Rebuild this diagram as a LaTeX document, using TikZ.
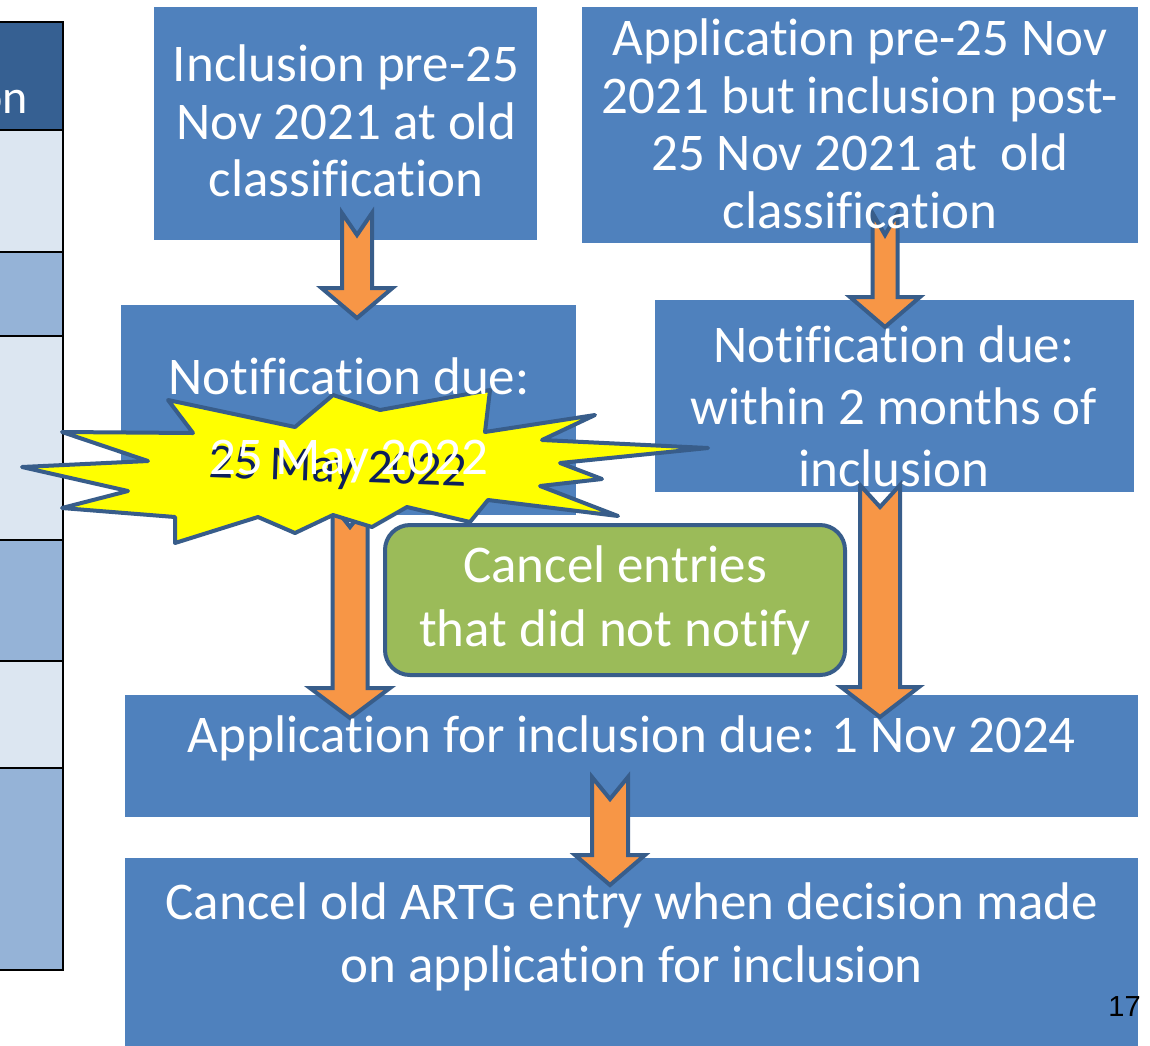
\documentclass[tikz,border=0pt]{standalone}
\usepackage{fontspec}
\setmainfont{Carlito}[Ligatures={NoCommon,NoContextual}]
\newfontfamily\pagenumfont{Liberation Sans}
\usetikzlibrary{calc}
\definecolor{boxblue}{HTML}{4F81BD}
\definecolor{edgeblue}{HTML}{385D8A}
\definecolor{arroworange}{HTML}{F79646}
\definecolor{staryellow}{HTML}{FFFF00}
\definecolor{cancelgreen}{HTML}{9BBB59}
\definecolor{hdrblue}{HTML}{366092}
\definecolor{rowlight}{HTML}{DCE6F1}
\definecolor{rowmid}{HTML}{95B3D7}
\definecolor{datenavy}{HTML}{0D1F5C}
\tikzset{
  stepbox/.style={fill=boxblue,inner sep=0pt,outer sep=0pt},
  boxtext/.style={text=white,align=center,inner sep=0pt,font={\fontsize{53}{57.5}\selectfont}},
  tablecell/.style={draw=black,line width=2pt},
  blockarr/.style={fill=arroworange,draw=edgeblue,line width=4pt},
  burst/.style={fill=staryellow,draw=edgeblue,line width=4pt,line join=round},
  cancelbox/.style={fill=cancelgreen,draw=edgeblue,line width=4pt,rounded corners=25pt,
    text=white,align=center,font={\fontsize{53}{64}\selectfont}}
}
% block arrow with notched tail: top, tip, half shaft, half head
\newcommand{\blockarrow}[4]{%
  \draw[blockarr] let \p1=(#1), \p2=(#2) in
    (\x1-#3pt,\y1) -- (\x1,\y1-22pt) -- (\x1+#3pt,\y1) -- (\x1+#3pt,\y2+30pt)
    -- (\x1+#4pt,\y2+30pt) -- (\x1,\y2) -- (\x1-#4pt,\y2+30pt) -- (\x1-#3pt,\y2+30pt) -- cycle;}

\begin{document}
\begin{tikzpicture}[x=1pt,y=-1pt]
  \fill[white] (0,0) rectangle (1150,1045);
  \useasboundingbox (0,0) rectangle (1150,1045);

  % table strip on the left
  \foreach \ytop/\ybot/\col in {22/130/hdrblue,130/252/rowlight,252/336/rowmid,
      336/540/rowlight,540/661/rowmid,661/768/rowlight,768/970/rowmid} {
    \draw[tablecell,fill=\col] (-5,\ytop) rectangle (63,\ybot);
  }
  \node[anchor=base east,text=white,inner sep=0pt,font={\fontsize{48}{54}\selectfont}] (hdrtext) at (28,113) {on};

  % boxes
  \node[stepbox,minimum width=383pt,minimum height=233pt] (boxA) at (345.5,123.5) {};
  \node[stepbox,minimum width=556pt,minimum height=236pt] (boxB) at (860,125) {};
  \node[stepbox,minimum width=455pt,minimum height=210pt] (boxC) at (348.5,410) {};
  \node[stepbox,minimum width=479pt,minimum height=192pt] (boxD) at (894.5,396) {};
  \node[stepbox,minimum width=1013pt,minimum height=122pt] (boxE) at (631.5,756) {};
  \node[stepbox,minimum width=1013pt,minimum height=192pt] (boxF) at (631.5,954) {};

  % arrows
  \coordinate (a1top) at ($(boxA.south)+(11.5,-27)$);
  \coordinate (a1tip) at ($(boxC.north)+(8.5,13)$);
  \coordinate (a2top) at ($(boxB.south)+(25,-30)$);
  \coordinate (a2tip) at ($(boxD.north)+(-9.5,27)$);
  \coordinate (a3top) at ($(boxC.south)+(1.5,-10)$);
  \coordinate (a3tip) at ($(boxE.north)+(-281.5,23)$);
  \coordinate (a4top) at ($(boxD.south)+(-14.5,-7)$);
  \coordinate (a4tip) at ($(boxE.north)+(248.5,22)$);
  \coordinate (a5top) at ($(boxE.south)+(-21.5,-40)$);
  \coordinate (a5tip) at ($(boxF.north)+(-21.5,27)$);
  \blockarrow{a1top}{a1tip}{15}{35.5}
  \blockarrow{a2top}{a2tip}{12.5}{35}
  \blockarrow{a3top}{a3tip}{17.5}{40}
  \blockarrow{a4top}{a4tip}{20}{39}
  \blockarrow{a5top}{a5tip}{18}{35}

  % explosion
  \draw[burst] (168,400) -- (295,427) -- (333,395) -- (380,410) -- (490,390) -- (485,432)
    -- (595,415) -- (542,440) -- (708,448) -- (560,463) -- (602,479) -- (540,486)
    -- (618,516) -- (488,500) -- (470,522) -- (407,507) -- (372,527) -- (333,515)
    -- (295,533) -- (258,517) -- (175,543) -- (175,517) -- (62,508) -- (128,491)
    -- (22,467) -- (148,461) -- (62,432) -- (193,433) -- cycle;
  \node[text=datenavy,rotate=-2,inner sep=0pt,font={\fontsize{49}{55}\selectfont}] (stardate) at (338,470) {25 May 2022};

  \node[cancelbox,minimum width=460pt,minimum height=150pt] (cancel) at (615,600)
    {Cancel entries\\that did not notify};

  % box texts
  \node[boxtext] (txtA) at (346,121) {Inclusion pre-25\\Nov 2021 at old\\classification};
  \node[boxtext] (txtB) at (860,124) {Application pre-25 Nov\\2021 but inclusion post-\\25 Nov 2021 at\ \ old\\classification};
  \node[boxtext] (txtC) at (349,420) {Notification due:\\[22.5pt]25 May 2022};
  \node[boxtext,font={\fontsize{53}{62}\selectfont}] (txtD) at (894,406) {Notification due:\\within 2 months of\\inclusion};
  \node[boxtext] (txtE) at (632,738) {Application for inclusion due: 1 Nov 2024};
  \node[boxtext,font={\fontsize{53}{63}\selectfont}] (txtF) at (632,937) {Cancel old ARTG entry when decision made\\on application for inclusion};

  \node[inner sep=0pt,font={\pagenumfont\fontsize{29}{34}\selectfont}] (pagenum) at (1124.5,1006.5) {17};
\end{tikzpicture}
\end{document}
